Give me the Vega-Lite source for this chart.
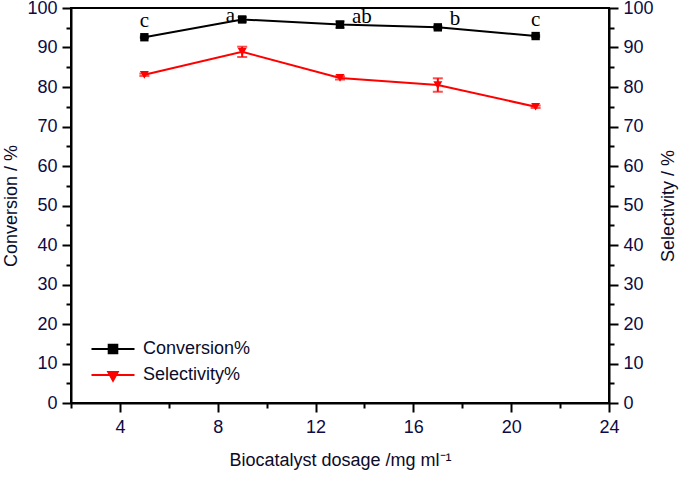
{
  "$schema": "https://vega.github.io/schema/vega-lite/v6.json",
  "width": 538,
  "height": 395,
  "autosize": {"type": "none"},
  "padding": {"left": 71, "top": 8, "right": 72, "bottom": 76},
  "background": "white",
  "data": {"values": [
    {"x": 5, "series": "Conversion%", "v": 92.6, "lo": 92.4, "hi": 92.8, "label": "c"},
    {"x": 9, "series": "Conversion%", "v": 97.1, "lo": 96.5, "hi": 97.7, "label": "a"},
    {"x": 13, "series": "Conversion%", "v": 95.8, "lo": 95.0, "hi": 96.6, "label": "ab"},
    {"x": 17, "series": "Conversion%", "v": 95.1, "lo": 94.8, "hi": 95.4, "label": "b"},
    {"x": 21, "series": "Conversion%", "v": 92.9, "lo": 92.7, "hi": 93.1, "label": "c"},
    {"x": 5, "series": "Selectivity%", "v": 83.1, "lo": 82.8, "hi": 83.4},
    {"x": 9, "series": "Selectivity%", "v": 88.9, "lo": 87.6, "hi": 90.2},
    {"x": 13, "series": "Selectivity%", "v": 82.3, "lo": 81.9, "hi": 82.7},
    {"x": 17, "series": "Selectivity%", "v": 80.5, "lo": 78.8, "hi": 82.2},
    {"x": 21, "series": "Selectivity%", "v": 75.0, "lo": 74.7, "hi": 75.3}
  ]},
  "config": {
    "font": "Liberation Sans",
    "view": {"stroke": "black", "strokeWidth": 2},
    "axis": {
      "grid": false,
      "domainColor": "black",
      "domainWidth": 2,
      "tickColor": "black",
      "tickWidth": 2,
      "labelFont": "Liberation Sans",
      "labelFontSize": 18,
      "labelColor": "#0b0b45",
      "labelFlush": false,
      "titleFont": "Liberation Sans",
      "titleFontSize": 18,
      "titleFontWeight": "normal",
      "titleColor": "#0b0b2a"
    },
    "legend": {
      "labelFont": "Liberation Sans",
      "labelFontSize": 18,
      "labelColor": "#0b0b2a"
    }
  },
  "encoding": {
    "x": {
      "field": "x",
      "type": "quantitative",
      "scale": {"domain": [2, 24], "nice": false, "zero": false},
      "axis": {
        "title": "Biocatalyst dosage /mg ml⁻¹",
        "values": [2, 4, 6, 8, 10, 12, 14, 16, 18, 20, 22, 24],
        "labelExpr": "datum.value % 4 === 0 ? datum.label : ''",
        "labelOverlap": false,
        "tickSize": {"condition": {"test": "datum.value % 4 === 0", "value": 9}, "value": 5},
        "labelPadding": 6,
        "titlePadding": 15
      }
    }
  },
  "layer": [
    {
      "transform": [{"filter": "datum.series === 'Conversion%'"}],
      "layer": [
        {
          "mark": {"type": "line", "color": "black", "strokeWidth": 2},
          "encoding": {"y": {"field": "v", "type": "quantitative", "scale": {"domain": [0, 100], "nice": false}, "axis": null}}
        },
        {
          "mark": {"type": "errorbar", "color": "black", "thickness": 2, "ticks": {"size": 9}},
          "encoding": {
            "y": {"field": "lo", "type": "quantitative", "scale": {"domain": [0, 100], "nice": false}, "axis": null},
            "y2": {"field": "hi"}
          }
        },
        {
          "mark": {"type": "point", "shape": "square", "filled": true, "size": 70, "opacity": 1, "color": "black"},
          "encoding": {"y": {"field": "v", "type": "quantitative", "axis": null}}
        },
        {
          "transform": [{"filter": "datum.x === 5 || datum.x === 21"}],
          "mark": {"type": "text", "font": "Liberation Serif", "fontSize": 21, "align": "center", "baseline": "alphabetic", "dy": -10, "color": "black"},
          "encoding": {"y": {"field": "v", "type": "quantitative", "axis": null}, "text": {"field": "label"}}
        },
        {
          "transform": [{"filter": "datum.x === 9"}],
          "mark": {"type": "text", "font": "Liberation Serif", "fontSize": 21, "align": "right", "baseline": "alphabetic", "dx": -7, "dy": 3, "color": "black"},
          "encoding": {"y": {"field": "v", "type": "quantitative", "axis": null}, "text": {"field": "label"}}
        },
        {
          "transform": [{"filter": "datum.x === 13 || datum.x === 17"}],
          "mark": {"type": "text", "font": "Liberation Serif", "fontSize": 21, "align": "left", "baseline": "alphabetic", "dx": 12, "dy": -2, "color": "black"},
          "encoding": {"y": {"field": "v", "type": "quantitative", "axis": null}, "text": {"field": "label"}}
        }
      ]
    },
    {
      "transform": [{"filter": "datum.series === 'Selectivity%'"}],
      "layer": [
        {
          "mark": {"type": "line", "color": "red", "strokeWidth": 2},
          "encoding": {"y": {"field": "v", "type": "quantitative", "scale": {"domain": [0, 100], "nice": false}, "axis": null}}
        },
        {
          "mark": {"type": "errorbar", "color": "red", "thickness": 2, "ticks": {"size": 10}},
          "encoding": {
            "y": {"field": "lo", "type": "quantitative", "scale": {"domain": [0, 100], "nice": false}, "axis": null},
            "y2": {"field": "hi"}
          }
        },
        {
          "mark": {"type": "point", "shape": "triangle-down", "filled": true, "size": 80, "opacity": 1, "color": "red"},
          "encoding": {"y": {"field": "v", "type": "quantitative", "axis": null}}
        }
      ]
    },
    {
      "transform": [{"filter": "datum.series === 'Selectivity%'"}],
      "mark": {"type": "point", "opacity": 0},
      "encoding": {
        "y": {
          "field": "v",
          "type": "quantitative",
          "scale": {"domain": [0, 100], "nice": false},
          "axis": {
            "orient": "right",
            "title": "Selectivity / %",
            "titleAngle": 270,
            "values": [0, 5, 10, 15, 20, 25, 30, 35, 40, 45, 50, 55, 60, 65, 70, 75, 80, 85, 90, 95, 100],
            "labelExpr": "datum.value % 10 === 0 ? datum.label : ''",
            "labelOverlap": false,
            "tickSize": {"condition": {"test": "datum.value % 10 === 0", "value": 9}, "value": 5},
            "labelPadding": 5,
            "titlePadding": 24
          }
        }
      }
    },
    {
      "mark": {"type": "point", "opacity": 0, "strokeWidth": 2},
      "encoding": {
        "y": {
          "field": "v",
          "type": "quantitative",
          "scale": {"domain": [0, 100], "nice": false},
          "axis": {
            "orient": "left",
            "title": "Conversion / %",
            "values": [0, 5, 10, 15, 20, 25, 30, 35, 40, 45, 50, 55, 60, 65, 70, 75, 80, 85, 90, 95, 100],
            "labelExpr": "datum.value % 10 === 0 ? datum.label : ''",
            "labelOverlap": false,
            "tickSize": {"condition": {"test": "datum.value % 10 === 0", "value": 9}, "value": 5},
            "labelPadding": 5,
            "titlePadding": 6
          }
        },
        "fill": {
          "field": "series",
          "type": "nominal",
          "scale": {"domain": ["Conversion%", "Selectivity%"], "range": ["black", "red"]},
          "legend": {
            "title": null,
            "orient": "none",
            "legendX": 32,
            "legendY": 331,
            "symbolSize": 296,
            "symbolOpacity": 1,
            "symbolStrokeWidth": 2,
            "rowPadding": 7,
            "labelOffset": 20
          }
        },
        "stroke": {
          "field": "series",
          "type": "nominal",
          "scale": {"domain": ["Conversion%", "Selectivity%"], "range": ["black", "red"]},
          "legend": {
            "title": null,
            "orient": "none",
            "legendX": 32,
            "legendY": 331,
            "symbolSize": 296,
            "symbolOpacity": 1,
            "symbolStrokeWidth": 2,
            "rowPadding": 7,
            "labelOffset": 20
          }
        },
        "shape": {
          "field": "series",
          "type": "nominal",
          "scale": {"domain": ["Conversion%", "Selectivity%"], "range": ["M-2.5,0H2.5M-0.5,-0.5H0.5V0.5H-0.5Z", "M-2.5,0H2.5M-0.55,-0.35H0.55L0,0.65Z"]},
          "legend": {
            "title": null,
            "orient": "none",
            "legendX": 32,
            "legendY": 331,
            "symbolSize": 296,
            "symbolOpacity": 1,
            "symbolStrokeWidth": 2,
            "rowPadding": 7,
            "labelOffset": 20
          }
        }
      }
    }
  ],
  "resolve": {"scale": {"y": "independent"}}
}
